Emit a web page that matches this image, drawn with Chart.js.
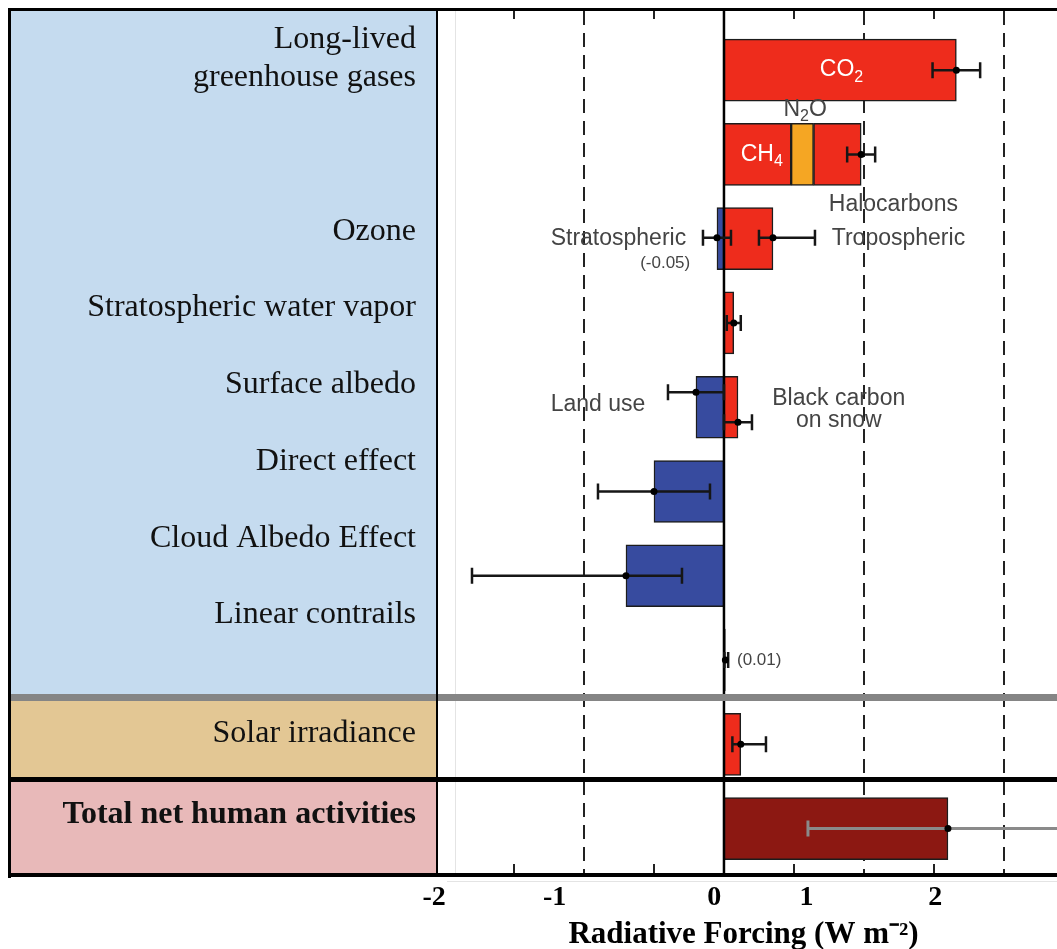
<!DOCTYPE html>
<html>
<head>
<meta charset="utf-8">
<script src="https://cdn.jsdelivr.net/npm/chart.js@4.4.1/dist/chart.umd.min.js"></script>
<style>
  html, body { margin: 0; padding: 0; background: #fff; }
</style>
</head>
<body>
<canvas id="rfChart" width="1057" height="949"></canvas>
<script>
// bar rows, top to bottom
const rows = ['CO2', 'CH4 + N2O + Halocarbons', 'Ozone', 'Stratospheric water vapor', 'Surface albedo',
  'Direct effect', 'Cloud albedo effect', 'Linear contrails', 'Solar irradiance', 'Total net human activities'];

// forcing of each part of a row (W m-2), null where the row has no such part
const firstPart  = [1.66, 0.48, 0.35, 0.07, 0.10, -0.50, -0.70, 0.01, 0.12, 1.60];
const secondPart = [null, 0.16, -0.05, null, -0.20, null, null, null, null, null];
const thirdPart  = [null, 0.34, null, null, null, null, null, null, null, null];

// uncertainty: [row, best estimate, low, high]
const errorBars = [
  [0, 1.66, 1.49, 1.83],
  [1, 0.98, 0.88, 1.08],
  [2, -0.05, -0.15, 0.05],
  [2, 0.35, 0.25, 0.65],
  [3, 0.07, 0.02, 0.12],
  [4, -0.20, -0.40, 0.00],
  [4, 0.10, 0.00, 0.20],
  [5, -0.50, -0.90, -0.10],
  [6, -0.70, -1.80, -0.30],
  [7, 0.01, 0.003, 0.03],
  [8, 0.12, 0.06, 0.30],
  [9, 1.60, 0.60, 2.40]
];

// labels of the left panel
const panelLabels = ['Long-lived', 'greenhouse gases', 'Ozone', 'Stratospheric water vapor', 'Surface albedo',
  'Direct effect', 'Cloud Albedo Effect', 'Linear contrails', 'Solar irradiance', 'Total net human activities'];

// x axis labels as printed in the figure, and where they are printed
const tickLabels = ['-2', '-1', '0', '1', '2'];
const tickLabelAt = [-2.07, -1.21, -0.07, 0.59, 1.51];
const dashedAt = [-1, 1, 2];
const minorTicks = [-1.5, -0.5, 0.5, 1.5];

// ---- styling / layout ----
const RED = '#ee2c1c', BLUE = '#374b9f', ORANGE = '#f5a623', DARKRED = '#8c1812';
const firstColors = [RED, RED, RED, RED, RED, BLUE, BLUE, RED, RED, DARKRED];
const secondColors = [null, ORANGE, BLUE, null, BLUE, null, null, null, null, null];

const labelBaselines = [48, 86, 240, 316, 393, 470, 547, 623, 742, 823];
const errorShift = [0, 0, -1, -1, 0, -15, 15, 0, 0, 0, 0, 0];

const panels = [
  { top: 10, bottom: 695, color: '#c5dbef' },
  { top: 700, bottom: 778, color: '#e3c794' },
  { top: 781, bottom: 874, color: '#e8b9b9' }
];

// text in the plot: [text, x value, row, dy, align, size, color]  ('_' = subscript)
const notes = [
  ['CO_2', 0.84, 0, 0, 'center', 23, '#fff'],
  ['CH_4', 0.27, 1, 0, 'center', 23, '#fff'],
  ['N_2O', 0.58, 1, -45, 'center', 23, '#444'],
  ['Halocarbons', 1.21, 1, 50, 'center', 23, '#444'],
  ['Stratospheric', -0.27, 2, 0, 'right', 23, '#444'],
  ['(-0.05)', -0.42, 2, 25, 'center', 17, '#444'],
  ['Tropospheric', 0.77, 2, 0, 'left', 23, '#444'],
  ['Land use', -0.9, 4, -3, 'center', 23, '#444'],
  ['Black carbon', 0.82, 4, -9, 'center', 23, '#444'],
  ['on snow', 0.82, 4, 13, 'center', 23, '#444'],
  ['(0.01)', 0.093, 7, 0, 'left', 17, '#444']
];

function drawNote(ctx, text, x, y, align, size, color) {
  const parts = [];
  for (let i = 0; i < text.length; i++) {
    if (text[i] === '_') { parts.push({ s: text[i + 1], sub: true }); i++; }
    else if (parts.length && !parts[parts.length - 1].sub) parts[parts.length - 1].s += text[i];
    else parts.push({ s: text[i], sub: false });
  }
  const big = size + 'px "Liberation Sans", Arial, sans-serif';
  const small = Math.round(size * 0.68) + 'px "Liberation Sans", Arial, sans-serif';
  let total = 0;
  parts.forEach(p => { ctx.font = p.sub ? small : big; p.w = ctx.measureText(p.s).width; total += p.w; });
  let cx = align === 'center' ? x - total / 2 : align === 'right' ? x - total : x;
  ctx.fillStyle = color;
  ctx.textAlign = 'left';
  ctx.textBaseline = 'middle';
  parts.forEach(p => {
    ctx.font = p.sub ? small : big;
    ctx.fillText(p.s, cx, p.sub ? y + size * 0.32 : y);
    cx += p.w;
  });
}

const figure = {
  id: 'figure',
  beforeDraw(chart) {
    const { ctx } = chart;
    const xs = chart.scales.x;
    ctx.save();
    ctx.fillStyle = '#fff';
    ctx.fillRect(0, 0, chart.width, chart.height);
    panels.forEach(p => {
      ctx.fillStyle = p.color;
      ctx.fillRect(10, p.top, 427, p.bottom - p.top);
    });
    ctx.strokeStyle = '#e4e4e4';
    ctx.lineWidth = 1;
    ctx.beginPath();
    ctx.moveTo(455.5, 10); ctx.lineTo(455.5, 874);
    ctx.moveTo(447, 881.5); ctx.lineTo(1057, 881.5);
    ctx.stroke();

    ctx.strokeStyle = '#222';
    ctx.lineWidth = 2;
    ctx.setLineDash([14, 8]);
    dashedAt.forEach(v => {
      const px = Math.round(xs.getPixelForValue(v));
      ctx.beginPath(); ctx.moveTo(px, 11); ctx.lineTo(px, 873); ctx.stroke();
    });
    ctx.setLineDash([]);
    minorTicks.forEach(v => {
      const px = Math.round(xs.getPixelForValue(v));
      ctx.beginPath();
      ctx.moveTo(px, 11); ctx.lineTo(px, 19);
      ctx.moveTo(px, 864); ctx.lineTo(px, 873);
      ctx.stroke();
    });
    ctx.restore();
  },
  afterDatasetsDraw(chart) {
    const { ctx } = chart;
    const xs = chart.scales.x, ys = chart.scales.y;
    ctx.save();
    // zero line
    const x0 = xs.getPixelForValue(0);
    ctx.strokeStyle = '#000';
    ctx.lineWidth = 2.5;
    ctx.beginPath(); ctx.moveTo(x0, 10); ctx.lineTo(x0, 874); ctx.stroke();

    // error bars
    errorBars.forEach(([row, best, lo, hi], i) => {
      const y = ys.getPixelForValue(row) + errorShift[i];
      const a = xs.getPixelForValue(lo), b = xs.getPixelForValue(hi), c = xs.getPixelForValue(best);
      ctx.strokeStyle = row === 9 ? '#8a8a8a' : '#161616';
      ctx.lineWidth = row === 9 ? 3 : 2.5;
      ctx.beginPath();
      ctx.moveTo(a, y); ctx.lineTo(b, y);
      ctx.moveTo(a, y - 8); ctx.lineTo(a, y + 8);
      ctx.moveTo(b, y - 8); ctx.lineTo(b, y + 8);
      ctx.stroke();
      ctx.fillStyle = '#000';
      ctx.beginPath(); ctx.arc(c, y, 3.5, 0, Math.PI * 2); ctx.fill();
    });

    notes.forEach(([text, xv, row, dy, align, size, color]) => {
      drawNote(ctx, text, xs.getPixelForValue(xv), ys.getPixelForValue(row) + dy, align, size, color);
    });
    ctx.restore();
  },
  afterDraw(chart) {
    const { ctx } = chart;
    ctx.save();
    ctx.fillStyle = '#858585';
    ctx.fillRect(10, 694, 1047, 7);
    ctx.fillStyle = '#000';
    ctx.fillRect(8, 8, 1049, 3);
    ctx.fillRect(8, 8, 3, 870);
    ctx.fillRect(8, 873, 1049, 4);
    ctx.fillRect(10, 777, 1047, 5);
    ctx.fillRect(436, 10, 2, 865);

    ctx.textAlign = 'right';
    ctx.textBaseline = 'alphabetic';
    panelLabels.forEach((t, i) => {
      const bold = i === panelLabels.length - 1;
      ctx.font = (bold ? 'bold ' : '') + '32px "Liberation Serif", "Times New Roman", serif';
      ctx.fillStyle = '#111';
      ctx.fillText(t, 416, labelBaselines[i]);
    });
    ctx.restore();
  }
};

const barStyle = { barThickness: 62, borderWidth: 1.5, borderColor: '#1c1c1c', borderSkipped: false };

new Chart(document.getElementById('rfChart'), {
  type: 'bar',
  data: {
    labels: rows,
    datasets: [
      { label: 'first', data: firstPart, backgroundColor: firstColors, ...barStyle },
      { label: 'second', data: secondPart, backgroundColor: secondColors, ...barStyle },
      { label: 'third', data: thirdPart, backgroundColor: RED, ...barStyle }
    ]
  },
  options: {
    indexAxis: 'y',
    responsive: false,
    animation: false,
    layout: { padding: { left: 430, top: 28, right: 0, bottom: 0 } },
    plugins: { legend: { display: false }, tooltip: { enabled: false } },
    scales: {
      y: { stacked: true, display: false },
      x: {
        stacked: true,
        min: -2.1,
        max: 2.379,
        grid: { display: false, drawTicks: false },
        border: { display: false },
        afterBuildTicks: scale => { scale.ticks = tickLabelAt.map(v => ({ value: v })); },
        ticks: {
          autoSkip: false,
          maxRotation: 0,
          padding: 10,
          color: '#000',
          font: { family: '"Liberation Serif", "Times New Roman", serif', size: 28, weight: 'bold' },
          callback: (v, i) => tickLabels[i]
        },
        title: {
          display: true,
          text: 'Radiative Forcing (W m\u207B\u00B2)',
          color: '#000',
          font: { family: '"Liberation Serif", "Times New Roman", serif', size: 31, weight: 'bold', lineHeight: 0.7 },
          padding: { top: 0, bottom: 3 }
        }
      }
    }
  },
  plugins: [figure]
});
</script>
</body>
</html>
